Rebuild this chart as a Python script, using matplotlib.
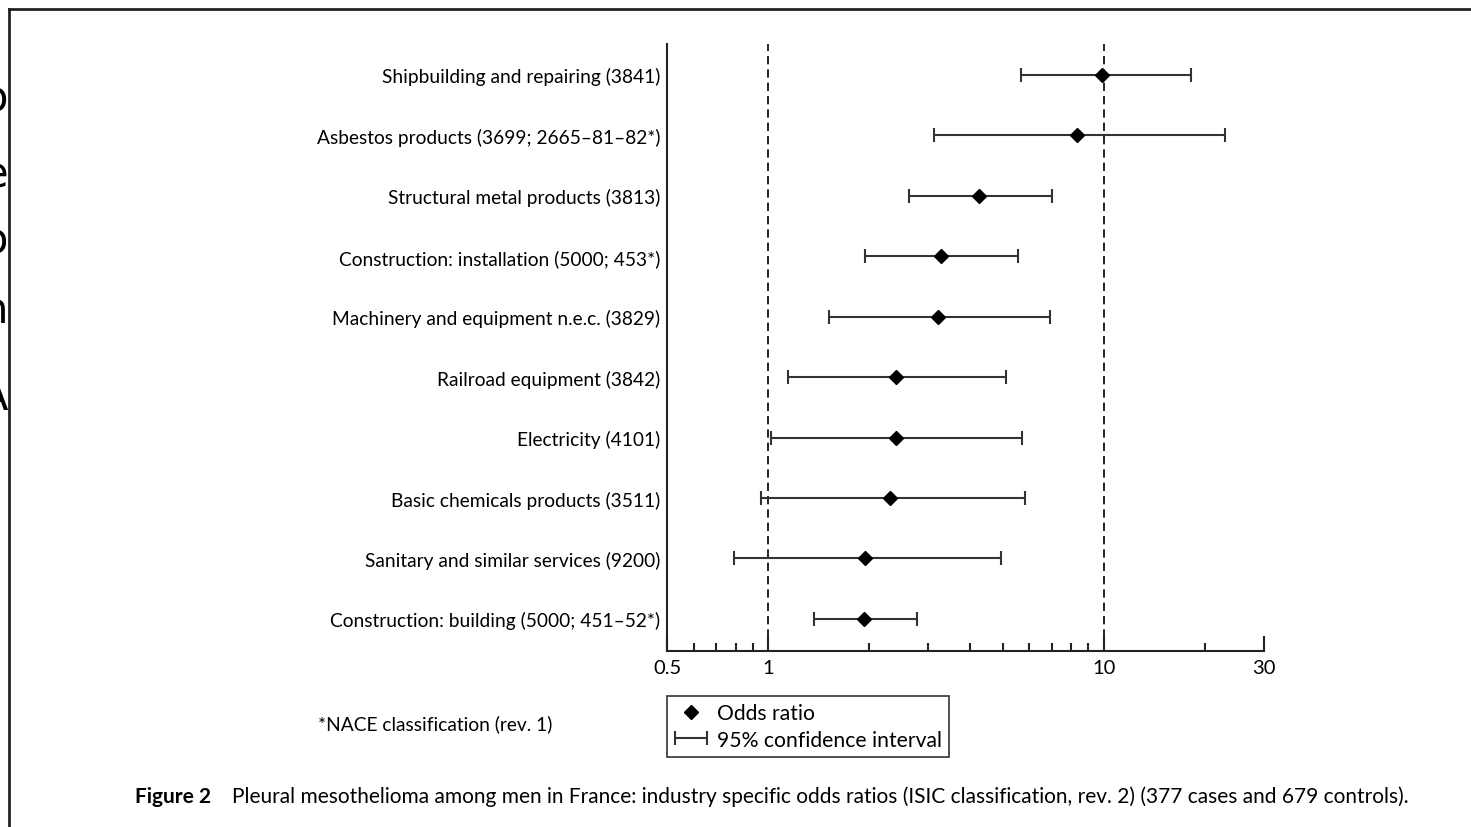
import matplotlib
matplotlib.use("Agg")
import matplotlib.pyplot as plt
from matplotlib.lines import Line2D
from matplotlib.legend_handler import HandlerErrorbar
import numpy as np

plt.rcParams['font.family'] = ['Lato', 'DejaVu Sans']

# industries, top to bottom
industries = [
    "Shipbuilding and repairing (3841)",
    "Asbestos products (3699; 2665\u201381\u201382*)",
    "Structural metal products (3813)",
    "Construction: installation (5000; 453*)",
    "Machinery and equipment n.e.c. (3829)",
    "Railroad equipment (3842)",
    "Electricity (4101)",
    "Basic chemicals products (3511)",
    "Sanitary and similar services (9200)",
    "Construction: building (5000; 451\u201352*)",
]
odds = [9.9, 8.3, 4.25, 3.28, 3.2, 2.4, 2.4, 2.31, 1.94, 1.93]
ci_low = [5.66, 3.11, 2.62, 1.95, 1.52, 1.15, 1.02, 0.955, 0.79, 1.37]
ci_high = [18.2, 23.0, 7.0, 5.54, 6.93, 5.13, 5.71, 5.82, 4.95, 2.77]

xticks = [0.5, 1, 10, 30]
xtick_labels = ["0.5", "1", "10", "30"]
minor = [0.6, 0.7, 0.8, 0.9, 2, 3, 4, 5, 6, 7, 8, 9, 20]

# cut-off letters from the neighbouring page at the far left
edge_letters = ["o", "e", "o", "n", "A"]
edge_baselines = [112, 188, 253, 323, 410]

W, H = 1471, 828
fig = plt.figure(figsize=(W / 100, H / 100), dpi=100)
ax = fig.add_axes([667 / W, 1 - 652 / H, (1264 - 667) / W, (652 - 45) / H])

n = len(industries)
ypos = np.arange(n, 0, -1)
odds = np.array(odds)
lo = odds - np.array(ci_low)
hi = np.array(ci_high) - odds

ax.axvline(1, color='black', ls=(0, (5, 3)), lw=1.2, zorder=1)
ax.axvline(10, color='black', ls=(0, (5, 3)), lw=1.2, zorder=1)

eb = ax.errorbar(odds, ypos, xerr=[lo, hi], fmt='none', ecolor='#333333',
                 elinewidth=1.5, capsize=5.3, capthick=1.5, zorder=2)
ax.plot(odds, ypos, ls='none', marker='D', ms=7, color='black', zorder=3)

ax.set_xscale('log')
ax.set_xlim(0.5, 30)
ax.set_ylim(0.47, 10.51)
ax.set_xticks(xticks)
ax.set_xticklabels(xtick_labels)
ax.set_xticks(minor, minor=True)
ax.xaxis.set_minor_formatter(matplotlib.ticker.NullFormatter())
ax.tick_params(axis='x', which='major', direction='in', length=11, width=1.5,
               pad=6, labelsize=14.5, color='#222222')
ax.tick_params(axis='x', which='minor', direction='in', length=6, width=1.5,
               color='#222222')
ax.set_yticks(ypos)
ax.set_yticklabels(industries)
ax.tick_params(axis='y', length=0, pad=5, labelsize=13.8)
for s in ['top', 'right']:
    ax.spines[s].set_visible(False)
for s in ['left', 'bottom']:
    ax.spines[s].set_linewidth(1.5)
    ax.spines[s].set_color('#222222')

handles = [Line2D([], [], ls='none', marker='D', ms=7, color='black'), eb]
leg = fig.legend(handles, ["Odds ratio", "95% confidence interval"],
                 loc='upper left', bbox_to_anchor=(667 / W, 1 - 697 / H),
                 fontsize=15.2, frameon=True, fancybox=False, edgecolor='black',
                 borderpad=0.33, handlelength=1.6, handletextpad=0.45,
                 labelspacing=0.32, borderaxespad=0,
                 handler_map={type(eb): HandlerErrorbar(xerr_size=0.75)})
leg.get_frame().set_linewidth(1.2)

fig.text(318 / W, 1 - 724 / H, "*NACE classification (rev. 1)", fontsize=13.8,
         va='center', ha='left')

fig.text(135 / W, 1 - 797 / H, "Figure 2", fontsize=15, fontweight='bold',
         va='center', ha='left')
fig.text(232 / W, 1 - 797 / H,
         "Pleural mesothelioma among men in France: industry specific odds ratios "
         "(ISIC classification, rev. 2) (377 cases and 679 controls).",
         fontsize=15, va='center', ha='left')

# page frame
fig.add_artist(Line2D([9 / W, 9 / W], [0, 1 - 10 / H], color='#222222', lw=2,
                      transform=fig.transFigure))
fig.add_artist(Line2D([9 / W, 1], [1 - 10 / H, 1 - 10 / H], color='#222222', lw=2,
                      transform=fig.transFigure))

for ch, yb in zip(edge_letters, edge_baselines):
    fig.text(8 / W, 1 - yb / H, ch, fontsize=30, ha='right', va='baseline',
             family='DejaVu Sans')

fig.savefig("out.png", dpi=100)
